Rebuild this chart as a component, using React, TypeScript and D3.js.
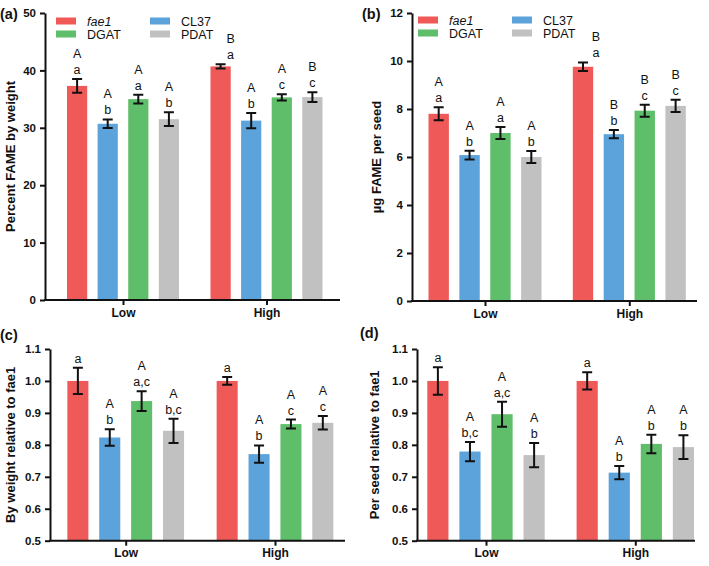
import React, { useRef, useEffect } from 'react'
import * as d3 from 'd3'

const groups = ['Low', 'High']
const lines = ['fae1', 'CL37', 'DGAT', 'PDAT']
const colors = ['#EF5A58', '#5CA3DB', '#5FBE6A', '#C1C1C1']

// (a) percent FAME by weight
const pctLow = [37.3, 30.7, 35.0, 31.5]
const pctHigh = [40.7, 31.25, 35.3, 35.35]
const pctErrLow = [1.2, 0.75, 0.75, 1.2]
const pctErrHigh = [0.35, 1.35, 0.55, 0.85]
const pctUpper = [['A', 'A', 'A', 'A'], ['B', 'A', 'A', 'B']]
const pctLower = [['a', 'b', 'a', 'b'], ['a', 'b', 'c', 'c']]

// (b) ug FAME per seed
const seedLow = [7.8, 6.08, 7.0, 6.0]
const seedHigh = [9.76, 6.95, 7.93, 8.13]
const seedErrLow = [0.27, 0.18, 0.25, 0.25]
const seedErrHigh = [0.18, 0.17, 0.25, 0.26]
const seedUpper = [['A', 'A', 'A', 'A'], ['B', 'B', 'B', 'B']]
const seedLower = [['a', 'b', 'a', 'b'], ['a', 'b', 'c', 'c']]

// (c) by weight relative to fae1
const relWLow = [1.0, 0.823, 0.937, 0.844]
const relWHigh = [1.0, 0.771, 0.865, 0.869]
const relWErrLow = [0.041, 0.026, 0.031, 0.038]
const relWErrHigh = [0.012, 0.027, 0.014, 0.021]
const relWUpper = [['', 'A', 'A', 'A'], ['', 'A', 'A', 'A']]
const relWLower = [['a', 'b', 'a,c', 'b,c'], ['a', 'b', 'c', 'c']]

// (d) per seed relative to fae1
const relSLow = [1.0, 0.779, 0.896, 0.768]
const relSHigh = [1.0, 0.713, 0.803, 0.793]
const relSErrLow = [0.043, 0.03, 0.039, 0.038]
const relSErrHigh = [0.027, 0.021, 0.029, 0.037]
const relSUpper = [['', 'A', 'A', 'A'], ['', 'A', 'A', 'A']]
const relSLower = [['a', 'b,c', 'a,c', 'b'], ['a', 'b', 'b', 'b']]

const yTicksA = [0, 10, 20, 30, 40, 50]
const yTicksB = [0, 2, 4, 6, 8, 10, 12]
const yTicksRel = [0.5, 0.6, 0.7, 0.8, 0.9, 1.0, 1.1]

const FONT = 'Liberation Sans, Arial, Helvetica, sans-serif'

const panels = [
  {
    tag: '(a)', tagX: 0, tagY: 19, title: 'Percent FAME by weight', titleX: 10,
    x0: 45, x1: 340, yTop: 13, yBot: 300, centers: [123, 266.5], span: 112,
    domain: [0, 50], ticks: yTicksA, fmt: d3.format('d'),
    means: [pctLow, pctHigh], errs: [pctErrLow, pctErrHigh], upper: pctUpper, lower: pctLower,
    shift: [[0, 0, 0, 0], [10, 0, 0, 0]],
    legend: { x1: 56, x2: 150, y1: 21, y2: 34 },
  },
  {
    tag: '(b)', tagX: 362, tagY: 19, title: 'µg FAME per seed', titleX: 376,
    x0: 412, x1: 697, yTop: 13, yBot: 301, centers: [485, 629.3], span: 113,
    domain: [0, 12], ticks: yTicksB, fmt: d3.format('d'),
    means: [seedLow, seedHigh], errs: [seedErrLow, seedErrHigh], upper: seedUpper, lower: seedLower,
    shift: [[0, 0, 0, 0], [13, 0, 0, 0]],
    legend: { x1: 418, x2: 512, y1: 20, y2: 33 },
  },
  {
    tag: '(c)', tagX: 0, tagY: 340, title: 'By weight relative to fae1', titleX: 10,
    x0: 50, x1: 345, yTop: 349, yBot: 540.7, centers: [125.7, 275], span: 116.7,
    domain: [0.5, 1.1], ticks: yTicksRel, fmt: d3.format('.1f'),
    means: [relWLow, relWHigh], errs: [relWErrLow, relWErrHigh], upper: relWUpper, lower: relWLower,
    shift: [[0, 0, 0, 0], [0, 0, 0, 0]],
    legend: null,
  },
  {
    tag: '(d)', tagX: 360, tagY: 338, title: 'Per seed relative to fae1', titleX: 374,
    x0: 417, x1: 695, yTop: 349, yBot: 540.7, centers: [486, 635.3], span: 117.4,
    domain: [0.5, 1.1], ticks: yTicksRel, fmt: d3.format('.1f'),
    means: [relSLow, relSHigh], errs: [relSErrLow, relSErrHigh], upper: relSUpper, lower: relSLower,
    shift: [[0, 0, 0, 0], [0, 0, 0, 0]],
    legend: null,
  },
]

function drawPanel(svg: any, p: any) {
  const g = svg.append('g').attr('font-family', FONT)

  const y = d3.scaleLinear().domain(p.domain).range([p.yBot, p.yTop])
  const xg = d3.scaleOrdinal<string, number>().domain(groups).range(p.centers)
  const xi = d3.scaleBand().domain(lines).range([-p.span / 2, p.span / 2]).paddingInner(0.34).paddingOuter(0)

  // bars
  groups.forEach((grp, gi) => {
    const rows = lines.map((name, si) => ({
      name, si, mean: p.means[gi][si], err: p.errs[gi][si],
      up: p.upper[gi][si], low: p.lower[gi][si], shift: p.shift[gi][si],
    }))
    const base = xg(grp)
    const cell = g.append('g')

    cell.selectAll('.bar')
      .data(rows)
      .join('rect')
        .attr('x', d => base + xi(d.name))
        .attr('width', xi.bandwidth())
        .attr('y', d => y(d.mean))
        .attr('height', d => y(p.domain[0]) - y(d.mean))
        .attr('fill', d => colors[d.si])

    // error bars
    const cx = (d: any) => base + xi(d.name) + xi.bandwidth() / 2
    cell.selectAll('.eb')
      .data(rows)
      .join('path')
        .attr('d', d => {
          const t = y(d.mean + d.err), b = y(d.mean - d.err), c = cx(d)
          return `M${c - 5},${t}H${c + 5}M${c},${t}V${b}M${c - 5},${b}H${c + 5}`
        })
        .attr('stroke', '#111')
        .attr('stroke-width', 2)
        .attr('fill', 'none')

    // significance letters
    cell.selectAll('.lo')
      .data(rows)
      .join('text')
        .attr('x', d => cx(d) + d.shift)
        .attr('y', d => y(d.mean + d.err) - 5)
        .attr('text-anchor', 'middle')
        .attr('font-size', 12.5)
        .attr('fill', '#111')
        .text(d => d.low)
    cell.selectAll('.up')
      .data(rows)
      .join('text')
        .attr('x', d => cx(d) + d.shift)
        .attr('y', d => y(d.mean + d.err) - 21)
        .attr('text-anchor', 'middle')
        .attr('font-size', 12.5)
        .attr('fill', '#111')
        .text(d => d.up)
  })

  // y axis
  const yAxis = d3.axisLeft(y).tickValues(p.ticks).tickFormat(p.fmt).tickSize(5).tickSizeOuter(0).tickPadding(4)
  const ya = g.append('g').attr('transform', `translate(${p.x0},0)`).call(yAxis)
  ya.select('.domain').attr('stroke-width', 2).attr('stroke', '#111')
  ya.selectAll('.tick line').attr('stroke-width', 2).attr('stroke', '#111')
  ya.selectAll('.tick text').attr('font-size', 11.5).attr('font-weight', 'bold').attr('fill', '#111').attr('font-family', FONT)

  // x axis
  const xAxis = d3.axisBottom(xg as any).tickSize(5).tickSizeOuter(0).tickPadding(3)
  const xa = g.append('g').attr('transform', `translate(0,${p.yBot})`).call(xAxis)
  xa.select('.domain').remove()
  xa.append('line').attr('x1', p.x0 - 1).attr('x2', p.x1).attr('stroke', '#111').attr('stroke-width', 2)
  xa.selectAll('.tick line').attr('stroke-width', 2).attr('stroke', '#111')
  xa.selectAll('.tick text').attr('font-size', 12).attr('font-weight', 'bold').attr('fill', '#111').attr('font-family', FONT)

  // y title
  g.append('text')
    .attr('transform', `translate(${p.titleX},${(p.yTop + p.yBot) / 2}) rotate(-90)`)
    .attr('text-anchor', 'middle')
    .attr('dy', '0.35em')
    .attr('font-size', 13)
    .attr('font-weight', 'bold')
    .attr('fill', '#111')
    .text(p.title)

  // panel tag
  g.append('text')
    .attr('x', p.tagX).attr('y', p.tagY)
    .attr('font-size', 14.5)
    .attr('font-weight', 'bold')
    .attr('fill', '#111')
    .text(p.tag)

  // legend
  if (p.legend) {
    const L = p.legend
    const pos = [[L.x1, L.y1], [L.x2, L.y1], [L.x1, L.y2], [L.x2, L.y2]]
    const order = [0, 1, 2, 3]
    const lg = g.append('g')
    order.forEach((si, k) => {
      const [lx, ly] = pos[k]
      lg.append('rect').attr('x', lx).attr('y', ly - 3.5).attr('width', 20).attr('height', 7).attr('fill', colors[si])
      lg.append('text')
        .attr('x', lx + 31).attr('y', ly)
        .attr('dy', '0.36em')
        .attr('font-size', 12.5)
        .attr('font-style', lines[si] === 'fae1' ? 'italic' : 'normal')
        .attr('fill', '#111')
        .text(lines[si])
    })
  }
}

export default function App() {
  const svgRef = useRef<SVGSVGElement>(null)

  useEffect(() => {
    const svg = d3.select(svgRef.current)
    svg.selectAll('*').remove()
    // legend order in figure: fae1, CL37 / DGAT, PDAT
    panels.forEach(p => drawPanel(svg, p))
  }, [])

  return (
    <svg
      ref={svgRef}
      width={709}
      height={566}
      style={{ position: 'absolute', left: 0, top: 0, background: '#fff' }}
    />
  )
}
